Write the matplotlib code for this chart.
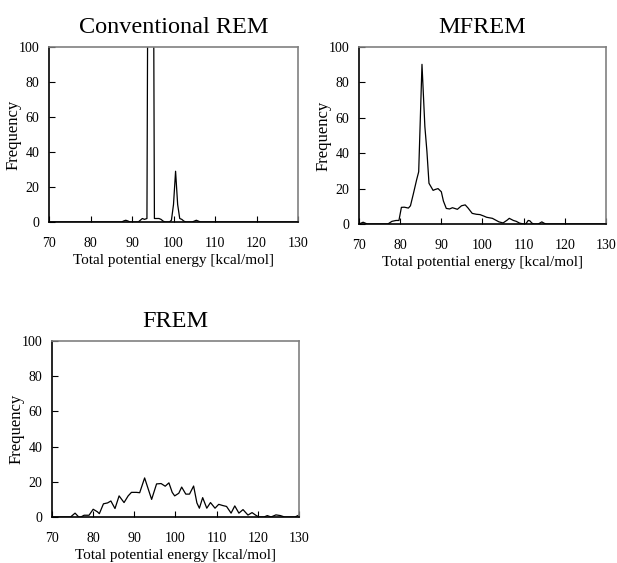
import matplotlib
matplotlib.use("Agg")
import matplotlib.pyplot as plt

plt.rcParams['font.family'] = ['Liberation Serif', 'DejaVu Serif']

# Conventional REM
rem_x = [70, 87.5, 88, 88.5, 89, 89.5, 90, 91.5, 92, 92.5, 93, 93.6, 94.5, 95.4, 95.8, 96.5, 97, 97.5, 98,
         99, 99.5, 100, 100.5, 101, 101.5, 102, 102.5, 103, 104.5, 105, 105.5, 106, 106.5, 130]
rem_y = [0, 0, 0.6, 1, 0.6, 0, 0, 0, 1, 2, 1.5, 2, 600, 2, 2, 2, 1.5, 0.5, 0,
         0, 1, 10, 29, 10, 2, 1.5, 0.5, 0, 0, 0.5, 1, 0.5, 0, 0]

# MFREM
mf_x = [70, 70.5, 71, 71.5, 72, 77, 78, 79, 79.7, 80.3, 81, 82, 82.5, 83.2, 84, 84.5, 85.3, 86, 86.5, 87,
        88, 88.5, 89.2, 90, 90.5, 91.2, 92, 92.7, 93.9, 94.9, 95.8, 96.5, 97.5, 98.5, 99.4, 100.3, 101,
        102.4, 103.2, 104, 105, 106, 106.5, 107.5, 108.2, 109, 110, 110.5, 111.1, 111.5, 112, 112.5,
        113.5, 114, 114.4, 115, 115.5, 130]
mf_y = [0, 0.5, 1, 0.5, 0, 0, 1.5, 2, 2, 9.4, 9.5, 9, 10.3, 17, 25, 29.5, 90.2, 55, 41, 23,
        19, 19.5, 20, 18.2, 13, 8.8, 8.5, 9.2, 8.3, 10.3, 10.8, 9, 6, 5.5, 5.3, 4.5, 3.8,
        3.2, 2.2, 1.2, 0.6, 2.2, 3.2, 2, 1.5, 0.5, 0, 0, 2, 1.8, 0.5, 0,
        0, 0.6, 1.2, 0.4, 0, 0]

# FREM
fr_x = [70, 74.5, 75.6, 76.5, 77, 77.8, 79, 80, 81, 81.5, 82.5, 83.5, 84.3, 85.3, 86.3, 87.5, 88.5, 89.3,
        90.5, 91.3, 92.5, 93.5, 94.2, 95.4, 96.5, 97.5, 98.4, 99.2, 99.8, 100.8, 101.5, 102.5, 103.4,
        104.4, 105.2, 105.8, 106.6, 107.6, 108.5, 109.6, 110.5, 111.5, 112.4, 113.5, 114.4, 115.4,
        116.4, 117.6, 118.6, 119.5, 120.3, 121.5, 122.3, 123.2, 124.4, 125.5, 126.5, 129, 130]
fr_y = [0, 0, 2.2, 0, 0, 1, 1, 4.4, 3, 1.9, 7.5, 8, 9.1, 4.8, 12, 8.2, 12, 14,
        14, 13.8, 22.2, 15, 10, 18.8, 19, 17.5, 19.4, 14, 12, 13.5, 17, 13, 13,
        17.6, 8, 5, 11, 5, 8.2, 5, 7.2, 6.5, 6, 2.2, 6.3, 2.2,
        4.2, 1.1, 2.5, 1, 0, 0, 0.8, 0, 1.2, 0.8, 0, 0, 1.1]

titles = ["Conventional REM", "MFREM", "FREM"]
xlabel = "Total potential energy [kcal/mol]"
ylabel = "Frequency"
xticks = [70, 80, 90, 100, 110, 120, 130]
yticks = [0, 20, 40, 60, 80, 100]

fig = plt.figure(figsize=(6.17, 5.63), dpi=100)
rects = [
    [49/617, (563-222)/563, 249/617, 175/563],
    [359/617, (563-224)/563, 247/617, 177/563],
    [52/617, (563-517)/563, 247/617, 176/563],
]
series = [(rem_x, rem_y), (mf_x, mf_y), (fr_x, fr_y)]

for rect, (xs, ys), title in zip(rects, series, titles):
    ax = fig.add_axes(rect)
    ax.plot(xs, ys, color='black', lw=0.9)
    ax.set_xlim(70, 130)
    ax.set_ylim(0, 100)
    ax.set_xticks(xticks)
    ax.set_yticks(yticks)
    ax.tick_params(direction='in', length=4, width=0.8, labelsize=10)
    ax.tick_params(axis='x', pad=11)
    ax.tick_params(axis='y', pad=7)
    for s in ['left', 'bottom']:
        ax.spines[s].set_color('black')
        ax.spines[s].set_linewidth(1.2)
    for s in ['top', 'right']:
        ax.spines[s].set_color('#808080')
        ax.spines[s].set_linewidth(1.2)
    ax.set_title(title, fontsize=17.5, pad=10)
    ax.set_xlabel(xlabel, fontsize=11, labelpad=3)
    ax.set_ylabel(ylabel, fontsize=12, labelpad=-2)

fig.savefig("out.png", dpi=100)
